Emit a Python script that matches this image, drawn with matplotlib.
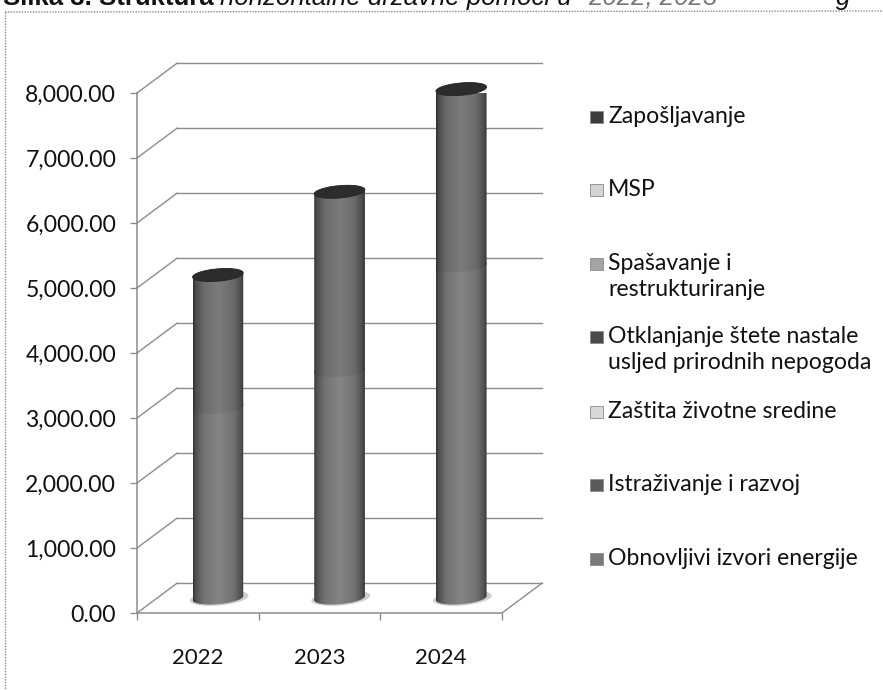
import matplotlib
matplotlib.use('Agg')
import matplotlib.pyplot as plt
import numpy as np
from matplotlib.colors import LinearSegmentedColormap, to_rgb
from matplotlib.lines import Line2D
from matplotlib.patches import Polygon, Rectangle

years = ['2022', '2023', '2024']

# only one internal boundary can be seen in each bar, the rest are estimated as 0
obnovljivi = [2970, 3540, 5150]
istrazivanje = [0, 0, 0]
zastita = [0, 0, 0]
otklanjanje = [0, 0, 0]
spasavanje = [0, 0, 0]
msp = [0, 0, 0]
zaposljavanje = [2000, 2710, 2680]

series = [obnovljivi, istrazivanje, zastita, otklanjanje, spasavanje, msp, zaposljavanje]
series_light = [0.08, 0, 0, 0, 0, 0, 0.0]

legend_labels = ['Zapošljavanje', 'MSP', 'Spašavanje i\nrestrukturiranje',
                 'Otklanjanje štete nastale\nusljed prirodnih nepogoda',
                 'Zaštita životne sredine', 'Istraživanje i razvoj',
                 'Obnovljivi izvori energije']
legend_colors = ['#3c3c3c', '#d4d4d4', '#a4a4a4', '#4a4a4a', '#d8d8d8', '#5a5a5a', '#7a7a7a']
legend_y = [117, 190, 264, 337, 412, 485, 559]

W, H = 883, 690
FONT = 'Lato'
GRID = '#8c8c8c'

# depth of the fake 3d box, in data units
DX = 0.33
DY = 460
BAR_A = 0.208
BAR_B = 95
BAR_SKEW = 32

fig = plt.figure(figsize=(W / 100, H / 100), dpi=100, facecolor='white')
ax = fig.add_axes([137 / W, 1 - 613 / H, 365 / W, 520 / H])
ax.set_xlim(0, 3)
ax.set_ylim(0, 8000)


def fx(x):
    return x / W


def fy(y):
    return 1 - y / H


# page frame
fig.add_artist(Line2D([fx(5), fx(5)], [fy(12), 0], color='#8a8a8a', lw=1.0, ls=(0, (1, 1))))
fig.add_artist(Line2D([fx(5), 1], [fy(12), fy(11)], color='#8a8a8a', lw=1.0, ls=(0, (1, 1))))

# caption cut by the top edge of the scan
title_y = fy(5)
fig.text(fx(3), title_y, 'Slika 3. Struktura', family='Liberation Sans', weight='bold',
         fontsize=18.5, color='#111111', va='baseline')
fig.text(fx(220), title_y, 'horizontalne državne pomoći u', family='Liberation Sans', style='italic',
         fontsize=18.5, color='#111111', va='baseline')
fig.text(fx(588), title_y, '2022, 2023', family='Liberation Sans', style='italic',
         fontsize=18.5, color='#777777', va='baseline')
fig.text(fx(836), title_y, 'g', family='Liberation Sans', style='italic',
         fontsize=18.5, color='#111111', va='baseline')

# walls and floor
ticks = np.arange(0, 8001, 1000)
for t in ticks:
    ax.plot([0, DX], [t, t + DY], color=GRID, lw=1.0, clip_on=False, zorder=1)
    ax.plot([DX, 3 + DX], [t + DY, t + DY], color=GRID, lw=1.0, clip_on=False, zorder=1)
ax.plot([3, 3 + DX], [0, DY], color=GRID, lw=1.0, clip_on=False, zorder=1)

for s in ['top', 'right']:
    ax.spines[s].set_visible(False)
for s in ['left', 'bottom']:
    ax.spines[s].set_color(GRID)
    ax.spines[s].set_linewidth(1.1)
ax.patch.set_alpha(0)

ax.set_yticks(ticks)
ax.set_yticklabels([f'{t:,.2f}' for t in ticks], fontsize=16.6, family=FONT, color='#111111')
ax.set_xticks([0, 1, 2, 3])
ax.set_xticklabels([])
ax.tick_params(axis='both', color=GRID, length=5, width=1.0)
ax.tick_params(axis='y', pad=10)
for i, year in enumerate(years):
    ax.annotate(year, (i + 0.5, 0), xytext=(0, -25), textcoords='offset points', ha='center', va='top',
                fontsize=16, family=FONT, color='#111111', annotation_clip=False)


def arc(cx, cy, t):
    x = cx + BAR_A * np.cos(t)
    y = cy + BAR_B * np.sin(t) + BAR_SKEW * np.cos(t)
    return x, y


def make_cmap(light):
    stops = [(0.0, '#2e2e2e'), (0.04, '#484848'), (0.2, '#6a6a6a'), (0.5, '#7c7c7c'),
             (0.8, '#6a6a6a'), (0.96, '#484848'), (1.0, '#2c2c2c')]
    return LinearSegmentedColormap.from_list(
        'cyl', [(p, tuple(np.array(to_rgb(c)) + light * (0.2 + p * (1 - p)))) for p, c in stops])


grad = np.linspace(0, 1, 128).reshape(1, -1)
totals = np.sum(series, axis=0)
t_bottom = np.linspace(np.pi, 2 * np.pi, 60)
t_full = np.linspace(0, 2 * np.pi, 120)

for i in range(len(years)):
    cx = i + 0.5 + DX / 2
    cy = DY / 2

    # shadow on the floor
    sx, sy = arc(cx + 0.01, cy, t_full)
    sx = cx + 0.01 + (sx - cx - 0.01) * 1.16
    sy = cy + (sy - cy) * 1.2
    ax.add_patch(Polygon(np.c_[sx, sy], closed=True, fc='#cfcfcf', ec='none', clip_on=False, zorder=2))

    bottom = 0
    for k, vals in enumerate(series):
        v = vals[i]
        if v == 0:
            continue
        # later segments reach a bit under the one below so no white seam shows
        lap = 40 if bottom > 0 else 0
        xb, yb = arc(cx, cy + bottom - lap, t_bottom)
        xt, yt = arc(cx, cy + bottom + v, t_bottom[::-1])
        clip = Polygon(np.c_[np.r_[xb, xt], np.r_[yb, yt]], closed=True, transform=ax.transData)
        im = ax.imshow(grad, cmap=make_cmap(series_light[k]), vmin=0, vmax=1, aspect='auto',
                       extent=[cx - BAR_A, cx + BAR_A, cy + bottom - 200, cy + bottom + v + 200],
                       zorder=3 + k * 0.1, interpolation='bilinear')
        im.set_clip_path(clip)
        bottom += v

    # dark top of the cylinder
    tx, ty = arc(cx, cy + totals[i], t_full)
    ax.add_patch(Polygon(np.c_[tx, ty], closed=True, fc='#2c2c2e', ec='#1c1c1c', lw=0.6, clip_on=False, zorder=4))

ax.set_xlim(0, 3)
ax.set_ylim(0, 8000)

# legend, placed by hand like the office chart
for lab, col, y in zip(legend_labels, legend_colors, legend_y):
    fig.add_artist(Rectangle((fx(590), fy(y + 6)), 13 / W, 12 / H, transform=fig.transFigure,
                             fc=col, ec='#8a8a8a', lw=0.6))
    fig.text(fx(608), fy(y - 11), lab, family=FONT, fontsize=16.6, color='#111111',
             va='top', ha='left', linespacing=1.32)

fig.savefig('out.png', dpi=100)
